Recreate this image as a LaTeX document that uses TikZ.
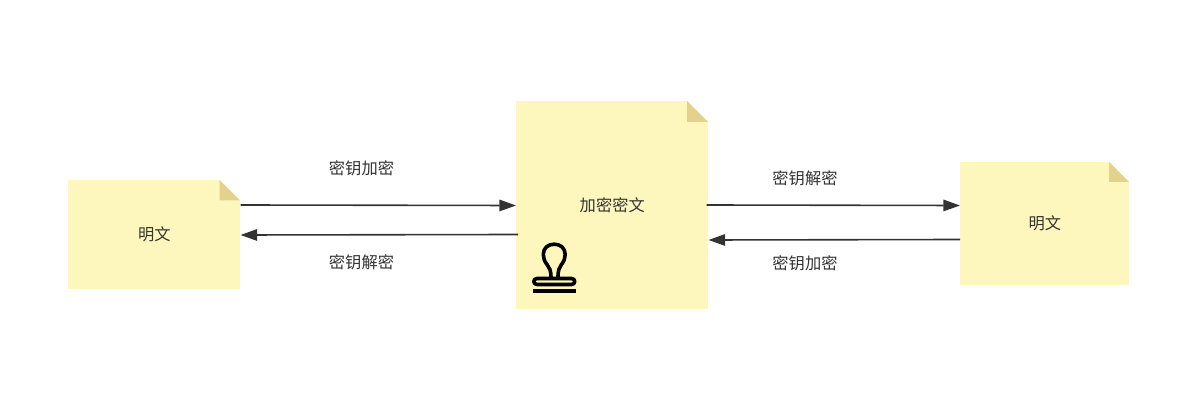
\documentclass[tikz,border=0pt]{standalone}
\usepackage{fontspec}
\setmainfont{Noto Sans CJK SC}
\usetikzlibrary{arrows.meta}
\definecolor{notefill}{HTML}{FEF7BD}
\definecolor{foldfill}{HTML}{E3D28D}
\definecolor{inkc}{HTML}{333333}
\tikzset{
  note/.style={fill=notefill,draw=none,inner sep=0pt,text=inkc,font=\fontsize{12.2}{14}\selectfont,anchor=north west},
  fold/.style={fill=foldfill,draw=none},
  cut/.style={fill=white,draw=none},
  flow/.style={draw=inkc,line width=1.2pt,-{Triangle[length=12.5pt,width=8.6pt]}},
  lab/.style={text=inkc,font=\fontsize{12.2}{14}\selectfont,inner sep=0pt},
  stamp/.style={draw=black,line width=2.7pt,fill=none,line cap=round,line join=round}
}
\begin{document}
\begin{tikzpicture}[x=0.75pt,y=-0.75pt]
\useasboundingbox (0,0) rectangle (1200,409);
\fill[white] (0,0) rectangle (1200,409);
% notes
\node[note,minimum width=129pt,minimum height=81.75pt] (left) at (68,180) {明文};
\fill[cut] (219.5,180) -- (240,180) -- (240,200.5) -- cycle;
\fill[fold] (219.5,180) -- (240,200.5) -- (219.5,200.5) -- cycle;
\node[note,minimum width=144pt,minimum height=156pt] (mid) at (516,101) {加密密文};
\fill[cut] (687,101) -- (708,101) -- (708,122) -- cycle;
\fill[fold] (687,101) -- (708,122) -- (687,122) -- cycle;
\node[note,minimum width=126.75pt,minimum height=92.25pt] (right) at (960,162) {明文};
\fill[cut] (1109,162) -- (1129,162) -- (1129,182) -- cycle;
\fill[fold] (1109,162) -- (1129,182) -- (1109,182) -- cycle;
% connector ends
\coordinate (la) at (left.east |- 0,205);
\coordinate (lb) at (left.east |- 0,235);
\coordinate (ma) at (mid.west |- 0,205.5);
\coordinate (mb) at ([xshift=1.5pt]mid.west |- 0,234.5);
\coordinate (mc) at ([xshift=-1.5pt]mid.east |- 0,205);
\coordinate (md) at (mid.east |- 0,240);
\coordinate (ra) at (right.west |- 0,205.5);
\coordinate (rb) at (right.west |- 0,239.5);
\draw[flow] (la) -- (ma);
\draw[flow] (mb) -- (lb);
\draw[flow] (mc) -- (ra);
\draw[flow] (rb) -- (md);
% labels
\node[lab] (l1) at (361.5,168) {密钥加密};
\node[lab] (l2) at (361.5,262.5) {密钥解密};
\node[lab] (l3) at (805,178) {密钥解密};
\node[lab] (l4) at (805,263) {密钥加密};
% stamp icon
\draw[stamp] (551,278) .. controls (551,270) and (549.5,268) .. (547,264.5)
  .. controls (544.5,261.5) and (543.3,258) .. (543.3,254.5)
  .. controls (543.3,248) and (548,244.2) .. (554.2,244.2)
  .. controls (560.4,244.2) and (565.2,248) .. (565.2,254.5)
  .. controls (565.2,258) and (564,261.5) .. (561.5,264.5)
  .. controls (559,268) and (558,270) .. (558,278);
\draw[stamp] (537,278.5) -- (571.5,278.5) .. controls (573.5,278.5) and (574.8,280) .. (574.8,281.5)
  .. controls (574.8,283) and (573.5,284.5) .. (571.5,284.5) -- (537,284.5)
  .. controls (535,284.5) and (533.8,283) .. (533.8,281.5)
  .. controls (533.8,280) and (535,278.5) .. (537,278.5) -- cycle;
\draw[stamp,line cap=butt] (533,291) -- (576,291);
\end{tikzpicture}
\end{document}
